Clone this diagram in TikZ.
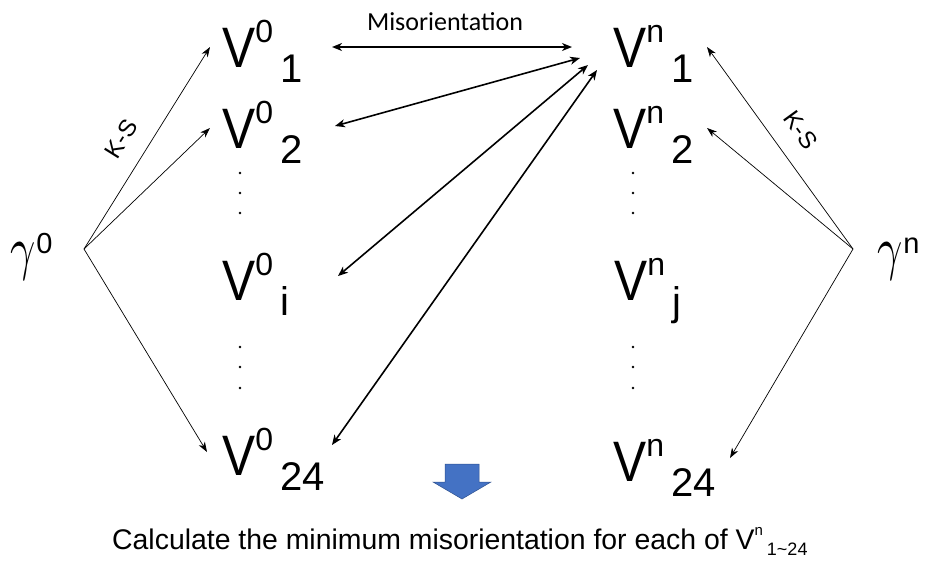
\documentclass[tikz,border=0pt]{standalone}
\usepackage{fontspec}
\setmainfont{Liberation Sans}
\newfontfamily\calibri{Carlito}
\usepackage{tikz}
\usetikzlibrary{arrows.meta, calc}
\definecolor{mydark}{RGB}{0,0,0}
\definecolor{myblue}{RGB}{68,114,196}
\definecolor{myblueedge}{RGB}{47,82,143}
\newcommand{\vvar}[2]{\scalebox{0.87}[1]{V}\raisebox{25pt}{\fontsize{32}{32}\selectfont #1}\kern7pt\raisebox{-15pt}{\fontsize{40}{40}\selectfont #2}}
\newcommand{\gvar}[1]{{\normalsize\scalebox{4.4}[6]{$\gamma$}}\kern1pt\raisebox{15pt}{\fontsize{29}{29}\selectfont #1}}
\tikzset{
  vlabel/.style={anchor=base west, inner sep=0pt, font=\fontsize{57}{57}\selectfont},
  glabel/.style={anchor=base west, inner sep=0pt, font=\fontsize{56}{56}\selectfont},
  kslabel/.style={inner sep=0pt, font=\fontsize{24}{24}\selectfont},
  ksarrow/.style={-{Stealth[length=10pt,width=7pt,inset=3pt]}, line width=0.7pt, color=mydark},
  misarrow/.style={{Stealth[length=10pt,width=8pt,inset=3pt]}-{Stealth[length=10pt,width=8pt,inset=3pt]},
    line width=1.6pt, color=mydark},
  vdot/.style={fill=mydark}
}
\begin{document}
\begin{tikzpicture}[x=1pt, y=-1pt]
  \useasboundingbox (0,0) rectangle (927,563);
  \node[glabel] (g0) at (10,268) {\gvar{0}};
  \node[glabel] (gn) at (877,268) {\gvar{n}};
  \coordinate (ksl) at (84,249);
  \coordinate (ksr) at (853,249);
  \node[vlabel] (v01) at (222,67) {\vvar{0}{1}};
  \node[vlabel] (v02) at (222,148) {\vvar{0}{2}};
  \node[vlabel] (v0i) at (222,300) {\vvar{0}{i}};
  \node[vlabel] (v024) at (222,475) {\vvar{0}{24}};
  \node[vlabel] (vn1) at (613,67) {\vvar{n}{1}};
  \node[vlabel] (vn2) at (613,148) {\vvar{n}{2}};
  \node[vlabel] (vnj) at (614,300) {\vvar{n}{j}};
  \node[vlabel] (vn24) at (613,481) {\vvar{n}{24}};
  \foreach \x in {240,633}
    \foreach \y in {173,193,213,347,367,388}
      \fill[vdot] (\x,\y) circle (1.3pt);
  \draw[ksarrow] (ksl) -- ($(v01.base west)+(-12,-20)$);
  \draw[ksarrow] (ksl) -- ($(v02.base west)+(-12,-20)$);
  \draw[ksarrow] (ksl) -- ($(v024.base west)+(-15,-23)$);
  \draw[ksarrow] (ksr) -- ($(vn1.base west)+(94,-20)$);
  \draw[ksarrow] (ksr) -- ($(vn2.base west)+(94,-20)$);
  \draw[ksarrow] (ksr) -- ($(vn24.base west)+(117,-23)$);
  \node[kslabel, rotate=58] (ks0) at (121,139) {K-S};
  \node[kslabel, rotate=-54] (ksn) at (801,130) {K-S};
  \draw[misarrow] ($(v01.base west)+(110,-20)$) -- ($(vn1.base west)+(-41,-20)$);
  \draw[misarrow] ($(v02.base west)+(113,-22)$) -- ($(vn1.base west)+(-33,-9)$);
  \draw[misarrow] ($(v0i.base west)+(116,-24)$) -- ($(vn1.base west)+(-25,-2)$);
  \draw[misarrow] ($(v024.base west)+(110,-30)$) -- ($(vn1.base west)+(-16,3)$);
  \node[anchor=base, inner sep=0pt, font=\calibri\fontsize{26}{26}\selectfont] (mislab) at (445,30) {Misorientation};
  \filldraw[fill=myblue, draw=myblueedge, line width=0.5pt]
    (445,464) -- (479,464) -- (479,482) -- (491,482) -- (462,499) -- (433,482) -- (445,482) -- cycle;
  \node[anchor=base west, inner sep=0pt, font=\fontsize{28.4}{28.4}\selectfont] (note) at (112,549)
    {Calculate the minimum misorientation for each of V\raisebox{14pt}{\fontsize{15}{15}\selectfont n}\kern4pt\raisebox{-6pt}{\fontsize{18}{18}\selectfont 1\textasciitilde 24}};
\end{tikzpicture}
\end{document}
